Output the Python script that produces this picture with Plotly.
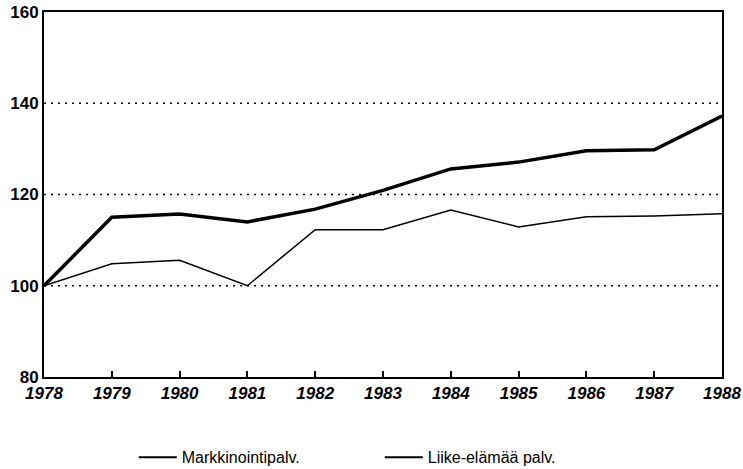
import plotly.graph_objects as go

years = [1978, 1979, 1980, 1981, 1982, 1983, 1984, 1985, 1986, 1987, 1988]
markkinointi = [100, 115.0, 115.7, 114.0, 116.8, 120.9, 125.6, 127.1, 129.6, 129.8, 137.2]
liike_elama = [100, 104.8, 105.6, 100.0, 112.3, 112.3, 116.6, 112.9, 115.1, 115.3, 115.8]
y_ticks = [80, 100, 120, 140, 160]
grid_values = [100, 120, 140]
series_names = ["Markkinointipalv.", "Liike-elämää palv."]

fig = go.Figure()
fig.add_trace(go.Scatter(x=years, y=markkinointi, mode="lines", name=series_names[0],
                         line=dict(color="black", width=3.5), showlegend=False))
fig.add_trace(go.Scatter(x=years, y=liike_elama, mode="lines", name=series_names[1],
                         line=dict(color="black", width=1.5), showlegend=False))
# legend entries (drawn with equal thin strokes as in the reference)
for nm in series_names:
    fig.add_trace(go.Scatter(x=[None], y=[None], mode="lines", name=nm,
                             line=dict(color="black", width=2), showlegend=True))

for v in grid_values:
    fig.add_shape(type="line", xref="paper", x0=0, x1=1, yref="y", y0=v, y1=v,
                  line=dict(color="black", width=1.3, dash="2px,5px"), layer="below")

fig.update_layout(
    width=743, height=469,
    margin=dict(l=44, r=21, t=12, b=92, autoexpand=False),
    plot_bgcolor="white", paper_bgcolor="white",
    font=dict(family="Liberation Sans, Arial, sans-serif", color="black"),
    showlegend=True,
    legend=dict(orientation="h", xref="container", yref="container",
                x=0.180, y=0.025, xanchor="left", yanchor="middle",
                font=dict(size=16), entrywidth=193, itemwidth=38,
                bgcolor="rgba(0,0,0,0)"),
    xaxis=dict(range=[1978, 1988], tickvals=years, ticktext=[str(y) for y in years],
               showgrid=False, zeroline=False, showline=True, linecolor="black", linewidth=2,
               mirror=True, ticks="inside", ticklen=6, tickcolor="black", tickwidth=1.5,
               tickfont=dict(size=17, style="italic", weight="bold"), automargin=False,
               ticklabeloverflow="allow"),
    yaxis=dict(range=[80, 160], tickvals=y_ticks, showgrid=False, zeroline=False,
               showline=True, linecolor="black", linewidth=2, mirror=True, ticks="",
               tickfont=dict(size=17, weight="bold"), automargin=False,
               ticklabeloverflow="allow"),
)

# remove the default 8px page margin so the figure fills the window exactly
fig.write_html("out.html", config={"displayModeBar": False},
               post_script="document.body.style.margin='0';")
